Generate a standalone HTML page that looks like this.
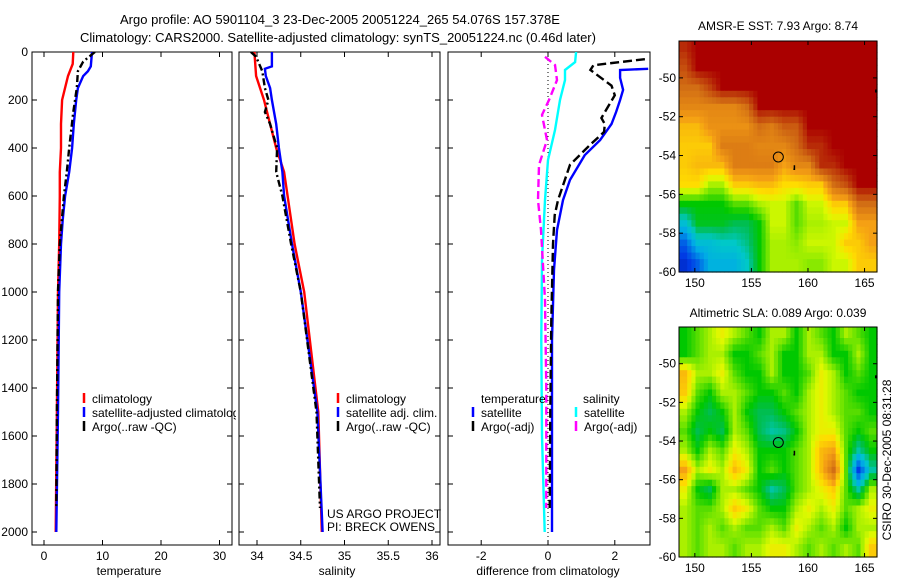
<!DOCTYPE html>
<html><head><meta charset="utf-8">
<style>
html,body{margin:0;padding:0;background:#fff;}
svg{display:block;font-family:"Liberation Sans",sans-serif;}
text{font-size:12px;fill:#000;}
</style></head>
<body>
<svg id="fig" width="900" height="580" viewBox="0 0 900 580">
<text x="340" y="24" text-anchor="middle" style="font-size:13px">Argo profile: AO 5901104_3 23-Dec-2005 20051224_265 54.076S 157.378E</text>
<text x="338" y="42" text-anchor="middle" style="font-size:13px">Climatology: CARS2000. Satellite-adjusted climatology: synTS_20051224.nc (0.46d later)</text>
<text x="778" y="30" text-anchor="middle">AMSR-E SST: 7.93 Argo: 8.74</text>
<text x="778" y="317" text-anchor="middle">Altimetric SLA: 0.089 Argo: 0.039</text>
<text transform="translate(891,460) rotate(-90)" text-anchor="middle">CSIRO 30-Dec-2005 08:31:28</text>
<g id="layer"></g>
</svg>
<script>
// ---- profile data ----
const tDepth = [0,50,100,200,300,400,500,600,800,1000,1500,2000];
const tClim  = [5.0,4.9,4.1,3.1,2.9,2.9,2.7,2.7,2.6,2.4,2.2,2.0];
const tSatDepth = [0,60,80,100,150,200,300,400,500,600,700,800,1000,1500,2000];
const tSat   = [8.2,8.0,7.5,6.7,5.8,5.5,5.1,4.8,4.3,3.6,3.2,2.9,2.6,2.4,2.1];
const tArgoDepth = [0,20,40,80,150,250,400,500,600,800,1000,1500,1900];
const tArgo  = [8.7,7.7,6.7,5.8,5.6,5.0,4.3,3.9,3.4,2.7,2.4,2.2,2.1];
const sDepth = [0,100,200,300,400,500,600,800,1000,1500,2000];
const sClim  = [33.97,33.99,34.08,34.15,34.22,34.31,34.35,34.43,34.54,34.70,34.74];
const sSatDepth = [0,60,70,100,150,200,300,400,500,600,800,1000,1500,2000];
const sSat   = [34.17,34.17,34.09,34.10,34.15,34.17,34.22,34.25,34.29,34.31,34.40,34.50,34.69,34.75];
const sArgoDepth = [0,20,80,150,200,250,300,400,500,600,800,1000,1500,1900];
const sArgo  = [33.93,33.99,34.06,34.09,34.13,34.09,34.15,34.23,34.22,34.29,34.39,34.50,34.68,34.72];
const dArgoTDepth = [30,55,75,140,180,275,300,333,388,470,617,680,800,1117,1500,1900];
const dArgoT = [2.9,1.36,1.27,1.9,2.0,1.6,1.7,1.68,1.25,0.66,0.3,0.2,0.15,0.1,0.07,0.05];
const dSatTDepth = [70,75,108,158,200,250,300,367,430,533,617,742,908,1200,1600,2000];
const dSatT  = [3.0,2.16,2.16,2.25,2.16,2.04,1.9,1.56,1.1,0.66,0.45,0.27,0.18,0.12,0.12,0.12];
const dSatSDepth = [0,42,75,117,200,325,450,617,867,1200,1600,2000];
const dSatS  = [0.84,0.81,0.51,0.51,0.36,0.21,0.0,-0.09,-0.18,-0.2,-0.18,-0.1];
const dArgoSDepth = [20,54,117,200,262,367,471,617,742,1033,1400,1900];
const dArgoS = [-0.09,0.21,0.27,0.03,-0.18,-0.03,-0.27,-0.3,-0.21,-0.09,-0.05,-0.05];
const tTicks = [0,10,20,30];
const sTicks = [34,34.5,35,35.5,36];
const sTickLabels = ["34","34.5","35","35.5","36"];
const dTicks = [-2,0,2];
const depthTicks = [0,200,400,600,800,1000,1200,1400,1600,1800,2000];
// ---- map data (colormap index 0..1), rows -48..-60, 16 cols ----
const sstGrid = [
[0.95,1,1,1,1,1,1,1,1,1,1,1,1,1,1,1],
[0.9,1,1,1,1,1,1,1,1,1,1,1,1,1,1,1],
[0.85,0.85,0.92,1,1,1,1,1,1,1,1,1,1,1,1,1],
[0.8,0.8,0.8,0.8,0.8,0.85,1,1,1,1,1,1,1,1,1,1],
[0.72,0.72,0.78,0.78,0.78,0.78,0.85,0.82,0.88,0.88,1,1,1,1,1,1],
[0.7,0.7,0.7,0.82,0.82,0.82,0.8,0.8,0.8,0.85,0.95,0.95,1,1,1,1],
[0.7,0.72,0.72,0.72,0.82,0.82,0.82,0.82,0.75,0.8,0.8,0.95,0.95,1,1,1],
[0.68,0.68,0.6,0.6,0.7,0.7,0.72,0.72,0.68,0.68,0.7,0.7,0.85,0.9,1,1],
[0.5,0.5,0.5,0.5,0.55,0.55,0.6,0.62,0.62,0.55,0.62,0.62,0.7,0.7,0.85,0.85],
[0.35,0.48,0.48,0.48,0.45,0.45,0.5,0.62,0.62,0.55,0.6,0.6,0.62,0.62,0.75,0.75],
[0.2,0.35,0.35,0.38,0.38,0.42,0.5,0.6,0.6,0.58,0.62,0.62,0.62,0.7,0.7,0.75],
[0.12,0.2,0.32,0.32,0.32,0.38,0.5,0.6,0.6,0.6,0.58,0.58,0.62,0.62,0.7,0.7]];
const slaGrid = [
[0.5,0.55,0.6,0.65,0.6,0.55,0.5,0.6,0.6,0.5,0.6,0.55,0.5,0.6,0.55,0.5],
[0.5,0.55,0.6,0.6,0.5,0.5,0.55,0.6,0.5,0.5,0.6,0.6,0.5,0.5,0.6,0.5],
[0.72,0.6,0.6,0.65,0.55,0.5,0.5,0.6,0.5,0.5,0.55,0.65,0.6,0.5,0.55,0.5],
[0.7,0.55,0.5,0.6,0.6,0.55,0.5,0.5,0.55,0.5,0.6,0.65,0.6,0.55,0.5,0.5],
[0.6,0.5,0.45,0.5,0.6,0.5,0.45,0.45,0.5,0.55,0.6,0.65,0.6,0.55,0.55,0.5],
[0.55,0.45,0.5,0.45,0.6,0.55,0.45,0.4,0.42,0.5,0.6,0.65,0.65,0.55,0.5,0.55],
[0.6,0.5,0.6,0.55,0.65,0.6,0.5,0.5,0.5,0.55,0.6,0.72,0.75,0.55,0.4,0.5],
[0.75,0.6,0.65,0.6,0.72,0.65,0.5,0.55,0.5,0.55,0.6,0.72,0.85,0.55,0.15,0.4],
[0.65,0.5,0.45,0.6,0.6,0.55,0.5,0.4,0.45,0.55,0.6,0.65,0.7,0.55,0.4,0.6],
[0.6,0.55,0.55,0.6,0.7,0.65,0.55,0.5,0.5,0.6,0.65,0.6,0.65,0.55,0.6,0.65],
[0.6,0.55,0.6,0.55,0.6,0.55,0.55,0.6,0.55,0.65,0.6,0.55,0.6,0.5,0.6,0.6],
[0.6,0.55,0.6,0.6,0.55,0.6,0.6,0.65,0.65,0.6,0.55,0.6,0.55,0.6,0.55,0.7]];
const lonTicks = [150,155,160,165];
const latTicks = [-50,-52,-54,-56,-58,-60];
const argoLon = 157.378, argoLat = -54.076;

const NS='http://www.w3.org/2000/svg';
const layer=document.getElementById('layer');
function mk(tag,attrs,parent){const e=document.createElementNS(NS,tag);for(const k in attrs)e.setAttribute(k,attrs[k]);(parent||layer).appendChild(e);return e;}
function txt(x,y,s,anchor,parent){const e=mk('text',{x:x,y:y,'text-anchor':anchor||'start'},parent);e.textContent=s;return e;}

const Y0=52, YPX=0.24, PB=545;
const yD=d=>Y0+d*YPX;
const panels=[
 {name:'temperature',x0:32,x1:232,fx:v=>44+v*5.85,ticks:tTicks,labels:tTicks.map(String),title:'temperature',tx:129},
 {name:'salinity',x0:239,x1:440,fx:v=>257+(v-34)*87.5,ticks:sTicks,labels:sTickLabels,title:'salinity',tx:337},
 {name:'difference',x0:448,x1:650,fx:v=>548+v*33.4,ticks:dTicks,labels:dTicks.map(String),title:'difference from climatology',tx:548}];
panels.forEach((p,i)=>{
  const g=mk('g',{});
  
  
  const cid='clip'+i;
  const cp=mk('clipPath',{id:cid},g);mk('rect',{x:p.x0,y:Y0,width:p.x1-p.x0,height:PB-Y0},cp);
  p.g=g;p.clip='url(#'+cid+')';
  mk('rect',{x:p.x0,y:Y0,width:p.x1-p.x0,height:PB-Y0,fill:'none',stroke:'#000','stroke-width':1},g);
  p.ticks.forEach((t,j)=>{const x=p.fx(t);
    mk('line',{x1:x,x2:x,y1:Y0,y2:Y0+5,stroke:'#000'},g);mk('line',{x1:x,x2:x,y1:PB,y2:PB-5,stroke:'#000'},g);
    const l=txt(x,560,p.labels[j],'middle',g);
    
    });
  depthTicks.forEach(d=>{const y=yD(d);
    mk('line',{x1:p.x0,x2:p.x0+5,y1:y,y2:y,stroke:'#000'},g);mk('line',{x1:p.x1,x2:p.x1-5,y1:y,y2:y,stroke:'#000'},g);
    if(i===0){const l=txt(28,y+4,String(d),'end',g);
      
      }});
  const t=txt(p.tx,575,p.title,'middle',g);
  
  
});
function line(p,depths,vals,color,dash,name,w){
  const pts=depths.map((d,k)=>p.fx(vals[k]).toFixed(1)+','+yD(d).toFixed(1)).join(' ');
  const e=mk('polyline',{points:pts,fill:'none',stroke:color,'stroke-width':w||2.4,'stroke-dasharray':dash||'none','clip-path':p.clip},p.g);
  
  
}
const P=panels;
line(P[0],tDepth,tClim,'#f00','', 'temp-climatology-line');
line(P[0],tSatDepth,tSat,'#00f','', 'temp-satellite-line');
line(P[0],tArgoDepth,tArgo,'#000','7,3,2,3','temp-argo-line');
line(P[1],sDepth,sClim,'#f00','', 'sal-climatology-line');
line(P[1],sSatDepth,sSat,'#00f','', 'sal-satellite-line');
line(P[1],sArgoDepth,sArgo,'#000','7,3,2,3','sal-argo-line');
{const z=mk('line',{x1:548,x2:548,y1:Y0,y2:PB,stroke:'#000','stroke-dasharray':'1,3'},P[2].g);
 
 }
line(P[2],dSatSDepth,dSatS,'#0ff','', 'sal-sat-diff-line');
line(P[2],dArgoSDepth,dArgoS,'#f0f','8,4','sal-argo-diff-line');
line(P[2],dSatTDepth,dSatT,'#00f','', 'temp-sat-diff-line');
line(P[2],dArgoTDepth,dArgoT,'#000','9,4','temp-argo-diff-line');
function legend(x,y,color,label,parent){
  const g=mk('g',{'clip-path':parent.clipAttr||'none'},parent);
  
  
  mk('line',{x1:x,x2:x,y1:y-10,y2:y,stroke:color,'stroke-width':2.5},g);
  txt(x+8,y,label,'start',g);
  return g;
}
legend(84,403,'#f00','climatology',P[0].g);
legend(84,417,'#00f','satellite-adjusted climatology',P[0].g).setAttribute('clip-path','url(#clipL)');
legend(84,431,'#000','Argo(..raw -QC)',P[0].g);
{const cp=mk('clipPath',{id:'clipL'});mk('rect',{x:0,y:0,width:236,height:580},cp);}
legend(338,403,'#f00','climatology',P[1].g);
legend(338,417,'#00f','satellite adj. clim.',P[1].g);
legend(338,431,'#000','Argo(..raw -QC)',P[1].g);
txt(481,403,'temperature','start',P[2].g);
txt(583,403,'salinity','start',P[2].g);
legend(473,417,'#00f','satellite',P[2].g);
legend(473,431,'#000','Argo(-adj)',P[2].g);
legend(576,417,'#0ff','satellite',P[2].g);
legend(576,431,'#f0f','Argo(-adj)',P[2].g);
txt(327,518,'US ARGO PROJECT','start',P[1].g);
txt(327,531,'PI: BRECK OWENS','start',P[1].g);

// ---- maps ----
const cmStops=[[0,0,0,130],[0.15,0,60,230],[0.3,0,170,230],[0.38,0,200,200],[0.45,0,190,80],[0.5,0,200,0],[0.57,120,230,0],[0.63,220,250,0],[0.68,255,220,0],[0.75,245,160,20],[0.85,210,110,20],[0.93,190,60,10],[1,170,0,0]];
function cmap(v){v=Math.max(0,Math.min(1,v));
  for(let i=1;i<cmStops.length;i++){const a=cmStops[i-1],b=cmStops[i];
    if(v<=b[0]){const t=(v-a[0])/(b[0]-a[0]);
      return 'rgb('+[1,2,3].map(k=>Math.round(a[k]+(b[k]-a[k])*t)).join(',')+')';}}
  return 'rgb(170,0,0)';}
function sample(grid,r,c){ // bilinear at fractional cell-center coords
  const nr=grid.length,nc=grid[0].length;
  r=Math.max(0,Math.min(nr-1,r));c=Math.max(0,Math.min(nc-1,c));
  const r0=Math.floor(r),c0=Math.floor(c),r1=Math.min(nr-1,r0+1),c1=Math.min(nc-1,c0+1);
  const fr=r-r0,fc=c-c0;
  return grid[r0][c0]*(1-fr)*(1-fc)+grid[r0][c1]*(1-fr)*fc+grid[r1][c0]*fr*(1-fc)+grid[r1][c1]*fr*fc;}
function drawMap(name,grid,top,bot,latTop){
  const X0=679,X1=877,LON0=148.6,LON1=166.1;
  const fx=lon=>X0+(lon-LON0)/(LON1-LON0)*(X1-X0);
  const fy=lat=>top+(latTop-lat)/(latTop+60)*(bot-top);
  const g=mk('g',{});
  
  
  const nr=grid.length,nc=grid[0].length,S=3;
  const dlon=(LON1-LON0)/nc;
  for(let r=0;r<nr*S;r++)for(let c=0;c<nc*S;c++){
    const v=sample(grid,(r+0.5)/S-0.5,(c+0.5)/S-0.5);
    const la0=Math.min(latTop,-48-r/S), la1=-48-(r+1)/S;
    const x=fx(LON0+c/S*dlon), w=fx(LON0+(c+1)/S*dlon)-x;
    const y=fy(la0), h=fy(la1)-y;
    if(h<=0)continue;
    const e=mk('rect',{x:x.toFixed(1),y:y.toFixed(1),width:(w+0.6).toFixed(1),height:(h+0.6).toFixed(1),fill:cmap(v)},g);
    
    
  }
  mk('rect',{x:X0,y:top,width:X1-X0,height:bot-top,fill:'none',stroke:'#000'},g);
  lonTicks.forEach(l=>{const x=fx(l);
    mk('line',{x1:x,x2:x,y1:top,y2:top+4,stroke:'#000'},g);mk('line',{x1:x,x2:x,y1:bot,y2:bot-4,stroke:'#000'},g);
    const t=txt(x,bot+15,String(l),'middle',g);
    
    });
  latTicks.forEach(l=>{const y=fy(l);
    mk('line',{x1:X0,x2:X0+4,y1:y,y2:y,stroke:'#000'},g);mk('line',{x1:X1,x2:X1-4,y1:y,y2:y,stroke:'#000'},g);
    const t=txt(X0-3,y+4,String(l),'end',g);
    
    });
  const c=mk('circle',{cx:fx(argoLon),cy:fy(argoLat),r:5,fill:'none',stroke:'#000'},g);
  
  
  mk('path',{d:'M'+fx(158.8)+' '+fy(-54.5)+' l0 4 l-1 0',stroke:'#000','stroke-width':1.5,fill:'none'},g);
  mk('path',{d:'M'+(X1-1)+' '+fy(-50.6)+' l0 3',stroke:'#000','stroke-width':2,fill:'none'},g);
}
drawMap('sst-map',sstGrid,41,272,-48.1);
drawMap('sla-map',slaGrid,327,557,-48.1);
</script>
</body></html>
